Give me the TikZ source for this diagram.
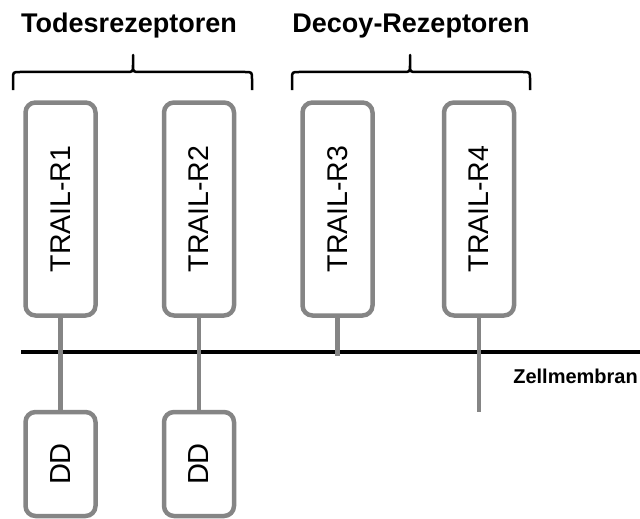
\documentclass[tikz,border=0pt]{standalone}
\usepackage{fontspec}
\setmainfont{Liberation Sans}
\definecolor{boxgray}{HTML}{858585}
\tikzset{
  recbox/.style={draw=boxgray, line width=4.5pt, rounded corners=10pt, fill=white,
    minimum width=70pt, inner sep=0pt, font=\fontsize{28.5}{30}\selectfont},
  tallbox/.style={recbox, minimum height=213pt},
  ddbox/.style={recbox, minimum height=104pt, font=\fontsize{29}{30}\selectfont},
  conn/.style={draw=boxgray, line width=4.5pt},
  membrane/.style={draw=black, line width=4pt},
  brace/.style={draw=black, line width=2.5pt, line join=round},
  title/.style={anchor=base, inner sep=0pt, font=\fontsize{27}{30}\selectfont\bfseries},
  smalllabel/.style={anchor=base east, inner sep=0pt, font=\fontsize{20}{22}\selectfont\bfseries}
}
\begin{document}
\begin{tikzpicture}[x=1pt,y=-1pt]
\useasboundingbox (0,0) rectangle (640,519);
% titles
\node[title] (t1) at (129,33) {Todesrezeptoren};
\node[title] (t2) at (411,33) {Decoy-Rezeptoren};
% braces
\draw[brace] (13,90) -- (13,79) .. controls (13,72) .. (20,72) -- (126,72)
  .. controls (133,72) .. (133,65) -- (133,55) -- (133,65)
  .. controls (133,72) .. (140,72) -- (245,72) .. controls (252,72) .. (252,79) -- (252,90);
\draw[brace] (292,90) -- (292,79) .. controls (292,72) .. (299,72) -- (403,72)
  .. controls (410,72) .. (410,65) -- (410,55) -- (410,65)
  .. controls (410,72) .. (417,72) -- (523,72) .. controls (530,72) .. (530,79) -- (530,90);
% membrane
\coordinate (mL) at (21,352);
\coordinate (mR) at (640,352);
\draw[membrane] (mL) -- (mR);
\node[smalllabel] (zm) at (638,383) {Zellmembran};
% receptors
\node[tallbox] (r1) at (60.5,209) {\rotatebox{90}{TRAIL-R1}};
\node[tallbox] (r2) at (199,209) {\rotatebox{90}{TRAIL-R2}};
\node[tallbox] (r3) at (337.5,209) {\rotatebox{90}{TRAIL-R3}};
\node[tallbox] (r4) at (479,209) {\rotatebox{90}{TRAIL-R4}};
% death domains
\node[ddbox] (d1) at (60.5,464) {\rotatebox{90}{DD}};
\node[ddbox] (d2) at (199,464) {\rotatebox{90}{DD}};
% connectors
\coordinate (e3) at (337.5,356);
\coordinate (e4) at (479,412);
\draw[conn] (r1.south) -- (d1.north);
\draw[conn] (r2.south) -- (d2.north);
\draw[conn] (r3.south) -- (e3);
\draw[conn] (r4.south) -- (e4);
\end{tikzpicture}
\end{document}
